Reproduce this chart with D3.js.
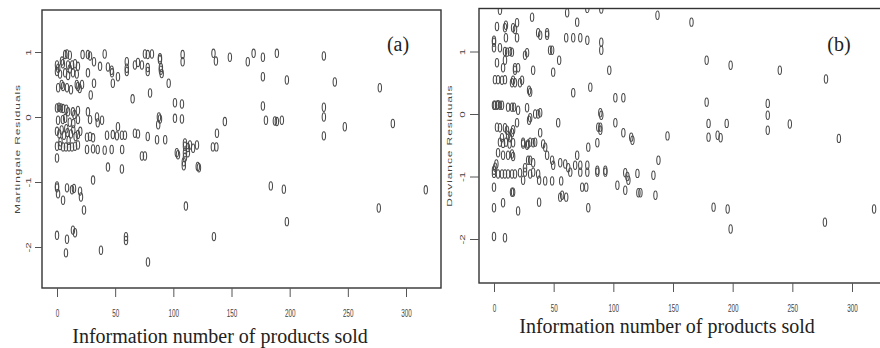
<!DOCTYPE html>
<html>
<head>
<meta charset="utf-8">
<script src="https://cdn.jsdelivr.net/npm/d3@7"></script>
<style>
  body { margin: 0; background: #fff; }
  svg { display: block; }
</style>
</head>
<body>
<script>
// shared axis values
const xTicks = [0, 50, 100, 150, 200, 250, 300];
const yTicks = [-2, -1, 0, 1];
const xTitle = "Information number of products sold";

// (a) martingale residuals, [products sold, residual]
const martingalePts = [
  [7,0.96],[8.6,0.97],[11,0.95],[22,0.96],[26.6,0.96],[28.4,0.94],[41,0.97],[75.6,0.97],[78,0.96],[81.6,0.97],
  [88.5,0.91],[108,0.96],[134.5,0.98],[136.6,0.86],[148.6,0.92],[164,0.85],[169,0.98],[177,0.92],[189,0.98],[229.4,0.94],
  [0,0.8],[1,0.75],[4.3,0.86],[5,0.82],[9.5,0.8],[11,0.74],[13,0.8],[15.5,0.82],[18,0.78],[31.8,0.85],
  [37,0.78],[43.8,0.77],[47,0.72],[60,0.85],[60,0.75],[67,0.8],[69.6,0.84],[73,0.8],[78,0.76],[88.5,0.88],
  [89.3,0.76],[89.3,0.72],[108,0.85],
  [0,0.7],[2.6,0.66],[7,0.68],[9.5,0.64],[13.7,0.68],[17,0.66],[26.6,0.68],[47.3,0.68],[52.4,0.62],[60,0.7],
  [78,0.7],[90,0.67],[177,0.62],[197.6,0.57],[238.8,0.54],
  [1,0.45],[4,0.5],[5.2,0.47],[8.6,0.45],[12,0.42],[17,0.5],[18,0.47],[19.5,0.44],[21.5,0.5],[31.8,0.52],
  [48,0.52],[96,0.52],[277.5,0.45],
  [29,0.34],[65,0.28],[80,0.37],[101.4,0.22],[107.4,0.2],
  [0,0.14],[1.7,0.15],[3.4,0.14],[5.2,0.13],[9.5,0.08],[13.7,0.08],[18,0.1],[26.6,0.08],[177,0.17],[229.4,0.15],
  [8,0.12],[15,0.04],
  [34.4,0],[38.7,-0.05],[0.9,-0.05],[5,-0.04],[7,-0.02],[11,-0.08],[14,-0.1],[18,-0.04],[28.4,-0.04],[35,-0.09],
  [52.4,-0.15],[87.6,0],[88.5,-0.03],[87,-0.12],[101.4,-0.02],[107.4,-0.03],[229.4,0],[179.6,-0.05],[187.3,-0.06],[189,-0.07],
  [193.3,-0.05],[144.3,-0.07],[247.4,-0.15],[288.7,-0.1],
  [0,-0.22],[2,-0.26],[4,-0.2],[6,-0.28],[8,-0.18],[9,-0.24],[12,-0.26],[14,-0.2],[16,-0.3],[18,-0.27],
  [20,-0.22],[25.8,-0.31],[28.4,-0.3],[31,-0.32],[43,-0.28],[48,-0.27],[51.5,-0.29],[55.8,-0.28],[58.4,-0.28],[67,-0.25],
  [69.6,-0.26],[78,-0.3],[86,-0.35],[93,-0.35],[137.5,-0.25],[229.4,-0.29],
  [0,-0.45],[2.6,-0.44],[5.2,-0.46],[7.7,-0.46],[10.3,-0.46],[12.9,-0.46],[15.5,-0.45],[18,-0.43],[3,-0.38],[10,-0.36],
  [25.8,-0.5],[31,-0.49],[35,-0.5],[41,-0.51],[47,-0.5],[56,-0.5],[110,-0.4],[114.3,-0.43],[120.3,-0.43],[110,-0.45],
  [112.5,-0.47],[117,-0.48],[134,-0.46],[137,-0.46],[73,-0.6],[75.6,-0.6],[104,-0.58],[103,-0.55],[110,-0.55],[112.5,-0.55],
  [0,-0.63],[110,-0.62],
  [109,-0.69],[43.8,-0.77],[55.8,-0.8],[109,-0.75],[121,-0.76],[122,-0.78],[31,-0.97],
  [0,-1.06],[0,-1.09],[0.9,-1.18],[5.2,-1.28],[8.6,-1.09],[12.9,-1.12],[14.6,-1.1],[19.8,-1.14],[20.6,-1.23],[23.2,-1.43],
  [110.8,-1.37],[0,-1.82],[8.6,-1.88],[13.7,-1.74],[15.5,-1.78],[7.7,-2.09],[37.8,-2.05],[59.3,-1.84],[59.3,-1.9],[78.2,-2.23],
  [134.9,-1.84],[183.8,-1.06],[195,-1.11],[197.6,-1.61],[276.6,-1.4],[317,-1.12]
];

// (b) deviance residuals, [products sold, residual]
const deviancePts = [
  [5,1.66],[31.9,1.55],[61.3,1.62],[78.2,1.69],[89.9,1.68],[69.7,1.47],[137,1.58],[165.5,1.47],
  [2.5,1.4],[9.2,1.38],[10,1.42],[16,1.38],[17.6,1.35],[19.3,1.46],[37,1.3],[44.5,1.3],
  [19.3,1.22],[0,1.15],[0,1.18],[10,1.22],[38.7,1.26],[44.5,1.26],[60.5,1.22],[66.4,1.22],[72.3,1.22],[78.2,1.18],
  [89.9,1.15],[89.9,1.02],[0,1.06],[5,1.06],[9.2,1.0],[11,0.99],[13.4,1.0],[15,0.99],[26,0.94],[27.7,0.98],
  [47,1.02],[48.7,1.02],
  [54.6,0.86],[2.5,0.82],[7.6,0.74],[9.2,0.86],[17.6,0.74],[20.2,0.74],[17.6,0.7],[32.8,0.7],[49.6,0.67],[96.6,0.7],
  [178.2,0.86],[198.3,0.78],[239.5,0.7],
  [0.8,0.55],[3.4,0.55],[6.7,0.54],[9.2,0.55],[15.1,0.5],[16,0.54],[17.6,0.5],[21.8,0.5],[23.5,0.54],[80.7,0.43],
  [278.2,0.56],
  [29.4,0.38],[30.3,0.35],[66.4,0.34],[101.7,0.26],[108.4,0.26],[178.2,0.19],[229.4,0.17],
  [0,0.14],[0.8,0.14],[2.5,0.14],[3.4,0.15],[5,0.14],[6.7,0.14],[11.8,0.11],[15.1,0.11],[16.8,0.11],[20.2,0.06],
  [27.7,0.1],
  [34.5,0],[37,0],[38.7,0.02],[30.3,-0.06],[29.4,-0.1],[53.8,-0.14],[89.1,0.02],[89.9,-0.02],[229.4,-0.02],[87.4,-0.21],
  [89.1,-0.21],[101.7,-0.14],[179.8,-0.15],[195,-0.15],[247.9,-0.16],[19.3,-0.14],
  [2.5,-0.21],[5,-0.22],[9.2,-0.22],[10.9,-0.26],[15.1,-0.3],[16,-0.25],[6.7,-0.38],[13.4,-0.38],[11.8,-0.34],[38.7,-0.3],
  [89.1,-0.26],[108.4,-0.3],[115,-0.37],[116,-0.42],[145.4,-0.35],[179.8,-0.37],[187.4,-0.34],[189.9,-0.38],[229.4,-0.26],[289,-0.39],
  [24.4,-0.45],[27.7,-0.5],[30.3,-0.45],[34.5,-0.45],[32.8,-0.46],[42.9,-0.53],[86.6,-0.46],[79,-0.53],[24.4,-0.48],[28.6,-0.48],
  [41.2,-0.48],[5,-0.45],[7.6,-0.47],[10,-0.45],[13,-0.48],[16,-0.46],
  [3.4,-0.62],[7.6,-0.66],[11.8,-0.66],[15.1,-0.64],[16,-0.68],[28.6,-0.74],[30.3,-0.74],[32.8,-0.78],[44.5,-0.66],[48.7,-0.74],
  [49.6,-0.82],[55.5,-0.78],[59.7,-0.8],[62.2,-0.86],[69.7,-0.66],[68,-0.82],[72.3,-0.82],[78.2,-0.82],[86.6,-0.9],[93.3,-0.9],
  [137.8,-0.74],[0,-0.9],[1,-0.85],[2,-0.8],
  [0,-0.95],[3.4,-0.96],[6.7,-0.96],[9.2,-0.96],[11.8,-0.96],[15.1,-0.96],[17.6,-0.96],[21.8,-0.94],[26,-0.86],[30.3,-0.96],
  [32.8,-0.93],[37,-0.96],[26,-0.93],[24.4,-1.06],[37.8,-1.06],[42.9,-1.07],[48.7,-1.07],[56.3,-1.07],[63.9,-0.93],[72.3,-0.93],
  [78.2,-0.93],[86.6,-0.93],[93.3,-0.93],[110,-0.94],[111.8,-1.0],[112.6,-1.06],[120.2,-0.95],[133.6,-0.98],
  [103.4,-1.14],[110,-1.22],[121,-1.26],[122.7,-1.26],[135.3,-1.3],[0,-1.17],[15.1,-1.25],[16,-1.25],[55.5,-1.33],[60.5,-1.33],
  [57.1,-1.3],[73.9,-1.17],[77.3,-1.17],[0,-1.5],[7.6,-1.42],[20.2,-1.55],[37.8,-1.41],[79,-1.5],[184,-1.49],[195.8,-1.52],
  [198.3,-1.84],[277.3,-1.73],[318.5,-1.52],[0,-1.96],[9.2,-1.98]
];

const width = 880;
const height = 348;

// layout of the two plot frames (pixels)
const panels = [
  {
    tag: "(a)", yTitle: "Martingale Residuals", pts: martingalePts,
    box: { x0: 42, x1: 441, y0: 10, y1: 288 },
    x: d3.scaleLinear().domain([0, 300]).range([57, 406]),
    y: d3.scaleLinear().domain([-2, 1]).range([247, 52]),
    yTick: 7, yLab: 13, yTitleX: 18,
    titleX: 220, titleY: 343, tagX: 398
  },
  {
    tag: "(b)", yTitle: "Deviance Residuals", pts: deviancePts,
    box: { x0: 479, x1: 900, y0: 8.5, y1: 283 },
    x: d3.scaleLinear().domain([0, 300]).range([494, 852]),
    y: d3.scaleLinear().domain([-2, 1]).range([239, 51.5]),
    yTick: 9, yLab: 16, yTitleX: 450,
    titleX: 667, titleY: 333, tagX: 839
  }
];

const svg = d3.select("body").append("svg")
  .attr("width", width)
  .attr("height", height)
  .attr("viewBox", [0, 0, width, height]);

svg.append("rect").attr("width", width).attr("height", height).attr("fill", "#fff");

const narrow = "scale(0.55,1)";
const sans = "'Liberation Sans', Arial, sans-serif";
const serif = "'Liberation Serif', 'Times New Roman', serif";

panels.forEach((p, i) => {
  const g = svg.append("g");
  const b = p.box;

  g.append("clipPath").attr("id", "clip" + i)
    .append("rect")
    .attr("x", b.x0).attr("y", b.y0)
    .attr("width", b.x1 - b.x0).attr("height", b.y1 - b.y0);

  // points drawn as narrow "0" rings
  g.append("g")
    .attr("clip-path", `url(#clip${i})`)
    .selectAll("ellipse")
    .data(p.pts)
    .join("ellipse")
    .attr("cx", d => p.x(d[0]))
    .attr("cy", d => p.y(d[1]))
    .attr("rx", 1.7)
    .attr("ry", 4.2)
    .attr("fill", "none")
    .attr("stroke", "#4a4a4a")
    .attr("stroke-width", 1.05);

  // frame
  g.append("rect")
    .attr("x", b.x0).attr("y", b.y0)
    .attr("width", b.x1 - b.x0).attr("height", b.y1 - b.y0)
    .attr("fill", "none")
    .attr("stroke", "#333")
    .attr("stroke-width", 1.4);

  // x axis
  const xa = g.append("g")
    .attr("transform", `translate(0,${b.y1})`)
    .call(d3.axisBottom(p.x).tickValues(xTicks).tickSize(9).tickFormat(d => String(d)));
  xa.select(".domain").remove();
  xa.selectAll("line").attr("stroke", "#555");
  xa.selectAll("text")
    .attr("y", null).attr("dy", null)
    .attr("transform", `translate(0,25) ${narrow}`)
    .attr("dominant-baseline", "central")
    .attr("font-family", sans)
    .attr("font-size", 11.5)
    .attr("fill", "#444");

  // y axis
  const ya = g.append("g")
    .attr("transform", `translate(${b.x0},0)`)
    .call(d3.axisLeft(p.y).tickValues(yTicks).tickSize(p.yTick).tickFormat(d => String(d)));
  ya.select(".domain").remove();
  ya.selectAll("line").attr("stroke", "#555");
  ya.selectAll("text")
    .attr("x", null).attr("dy", null)
    .attr("transform", `translate(${-p.yLab},0) ${narrow} rotate(-90)`)
    .attr("text-anchor", "middle")
    .attr("dominant-baseline", "central")
    .attr("font-family", sans)
    .attr("font-size", 11.5)
    .attr("fill", "#444");

  // y title
  g.append("text")
    .attr("transform", `translate(${p.yTitleX},${(b.y0 + b.y1) / 2}) ${narrow} rotate(-90)`)
    .attr("text-anchor", "middle")
    .attr("dominant-baseline", "central")
    .attr("font-family", sans)
    .attr("font-size", 12)
    .attr("letter-spacing", 0.9)
    .attr("fill", "#444")
    .text(p.yTitle);

  // x title
  g.append("text")
    .attr("x", p.titleX).attr("y", p.titleY)
    .attr("text-anchor", "middle")
    .attr("font-family", serif)
    .attr("font-size", 20)
    .attr("fill", "#222")
    .text(xTitle);

  // panel tag
  g.append("text")
    .attr("x", p.tagX).attr("y", 51)
    .attr("text-anchor", "middle")
    .attr("font-family", serif)
    .attr("font-size", 20)
    .attr("fill", "#222")
    .text(p.tag);
});
</script>
</body>
</html>
